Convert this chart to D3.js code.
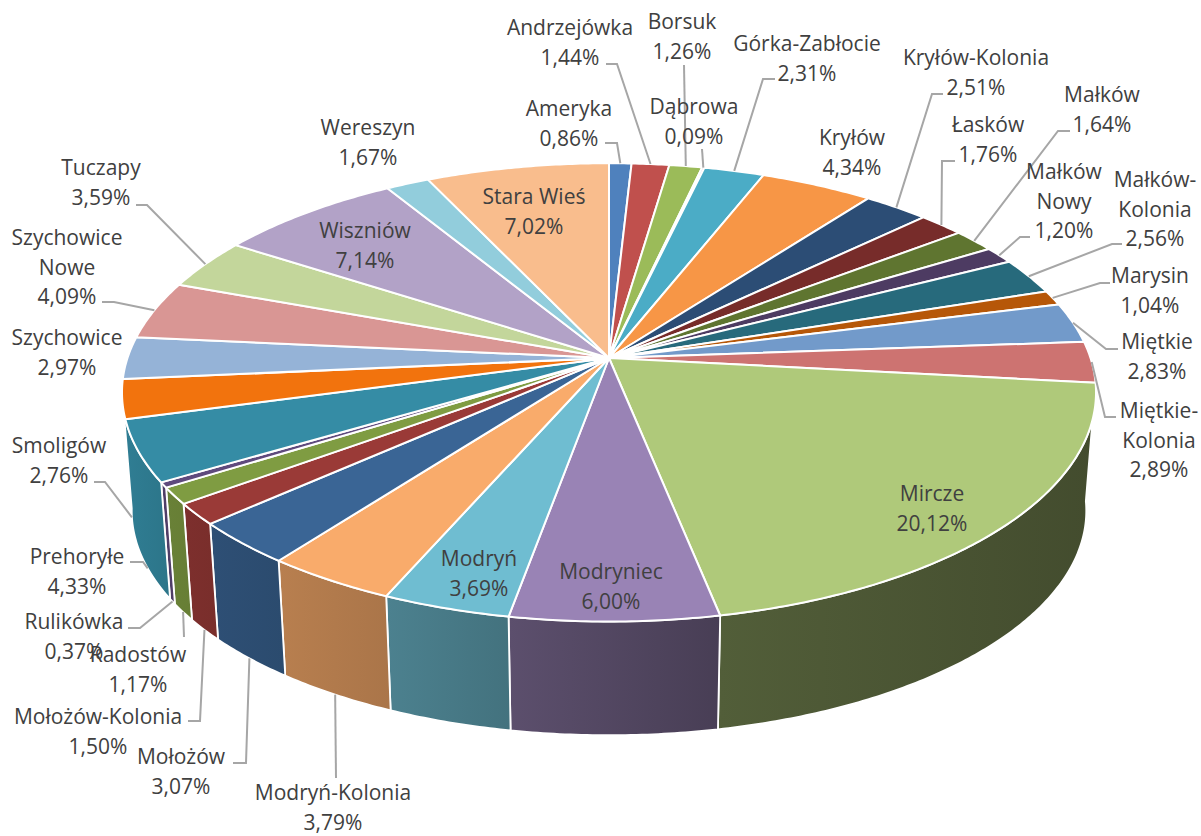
<!DOCTYPE html>
<html>
<head>
<meta charset="utf-8">
<script src="https://cdnjs.cloudflare.com/ajax/libs/d3/7.8.5/d3.min.js"></script>
<style>
  html, body { margin: 0; padding: 0; background: #fff; }
  text { font-family: "Open Sans", sans-serif; font-size: 21px; fill: #404040; }
</style>
</head>
<body>
<svg id="chart"></svg>
<script>
const categories = ["Ameryka", "Andrzejówka", "Borsuk", "Dąbrowa", "Górka-Zabłocie", "Kryłów", "Kryłów-Kolonia",
  "Łasków", "Małków", "Małków Nowy", "Małków-Kolonia", "Marysin", "Miętkie", "Miętkie-Kolonia", "Mircze",
  "Modryniec", "Modryń", "Modryń-Kolonia", "Mołożów", "Mołożów-Kolonia", "Radostów", "Rulikówka", "Prehoryłe",
  "Smoligów", "Szychowice", "Szychowice Nowe", "Tuczapy", "Wiszniów", "Wereszyn", "Stara Wieś"];

const shares = [0.86, 1.44, 1.26, 0.09, 2.31, 4.34, 2.51, 1.76, 1.64, 1.20, 2.56, 1.04, 2.83, 2.89, 20.12,
  6.00, 3.69, 3.79, 3.07, 1.50, 1.17, 0.37, 4.33, 2.76, 2.97, 4.09, 3.59, 7.14, 1.67, 7.02];

const colors = ["#4f81bd", "#c0504d", "#9bbb59", "#8064a2", "#4bacc6", "#f79646", "#2c4d75", "#772c2a", "#5f7530",
  "#4d3b62", "#276a7c", "#b65708", "#729aca", "#cd7371", "#afc97a", "#9983b5", "#6fbdd1", "#f9ab6b", "#3a6595",
  "#9a3a37", "#7f9c42", "#5f4a7d", "#358ca5", "#f2730d", "#95b3d7", "#d99694", "#c3d69b", "#b2a2c7", "#92cddc", "#f9bd8d"];

const width = 1201, height = 836;
const cx = 609, cy = 358;
const rx = 481.5, ry = 224, persp = 0.15;
const depth = 119, bottomScale = 0.98;

// label placement: x, y of the first line, leader points (elbow, end), which rim the leader starts on
const labelLayout = {
  "Ameryka": { x: 569, y: 109, leader: [[617, 143], [605, 143]] },
  "Andrzejówka": { x: 570, y: 28, leader: [[617, 64], [606, 64]] },
  "Borsuk": { x: 682, y: 22, leader: [[684, 65]] },
  "Dąbrowa": { x: 694, y: 107, leader: [[702, 149]] },
  "Górka-Zabłocie": { x: 807, y: 44, leader: [[763, 79], [775, 79]] },
  "Kryłów": { x: 852, y: 138 },
  "Kryłów-Kolonia": { x: 976, y: 58, leader: [[932, 94], [943, 94]] },
  "Łasków": { x: 988, y: 125, leader: [[942, 161], [955, 161]] },
  "Małków": { x: 1102, y: 95, leader: [[1058, 131], [1070, 131]] },
  "Małków Nowy": { x: 1064, y: 172, lines: ["Małków", "Nowy"], leader: [[1020, 237], [1030, 237]] },
  "Małków-Kolonia": { x: 1155, y: 180, lines: ["Małków-", "Kolonia"], leader: [[1112, 244], [1122, 244]] },
  "Marysin": { x: 1150, y: 276, leader: [[1100, 283], [1110, 283]] },
  "Miętkie": { x: 1157, y: 342, leader: [[1106, 349], [1118, 349]] },
  "Miętkie-Kolonia": { x: 1159, y: 411, lines: ["Miętkie-", "Kolonia"], leader: [[1105, 417], [1116, 417]] },
  "Mircze": { x: 932, y: 494 },
  "Modryniec": { x: 611, y: 572 },
  "Modryń": { x: 479, y: 559 },
  "Modryń-Kolonia": { x: 333, y: 793, rim: "bottom", leader: [[336, 778]] },
  "Mołożów": { x: 181, y: 757, rim: "bottom", leader: [[246, 763], [233, 763]] },
  "Mołożów-Kolonia": { x: 98, y: 717, rim: "bottom", leader: [[200, 721], [188, 721]] },
  "Radostów": { x: 138, y: 655, rim: "bottom", leader: [[184, 637]] },
  "Rulikówka": { x: 74, y: 622, rim: "bottom", leader: [[140, 628], [128, 628]] },
  "Prehoryłe": { x: 77, y: 557, rim: "bottom", leader: [[143, 562], [130, 562]] },
  "Smoligów": { x: 59, y: 446, rim: "bottom", leader: [[105, 482], [94, 482]] },
  "Szychowice": { x: 67, y: 338 },
  "Szychowice Nowe": { x: 67, y: 238, lines: ["Szychowice", "Nowe"], leader: [[114, 302], [102, 302]] },
  "Tuczapy": { x: 101, y: 168, leader: [[147, 205], [136, 205]] },
  "Wiszniów": { x: 365, y: 231 },
  "Wereszyn": { x: 368, y: 128 },
  "Stara Wieś": { x: 534, y: 197 }
};

const svg = d3.select("#chart")
  .attr("width", width)
  .attr("height", height)
  .style("display", "block");

// perspective tilt of the disc, a is the clockwise angle from 12 o'clock
const project = (a, rim) => {
  const X = Math.sin(a), Y = -Math.cos(a);
  const f = 1 / (1 - persp * Y);
  if (rim === "bottom") {
    return [cx + rx * X * f * bottomScale, cy + depth + ry * Y * f * bottomScale];
  }
  return [cx + rx * X * f, cy + ry * Y * f];
};

const rimPoints = (a0, a1, rim) => {
  const n = Math.max(2, Math.ceil((a1 - a0) / 0.01));
  return d3.range(n + 1).map(i => project(a0 + (a1 - a0) * i / n, rim));
};

const pie = d3.pie().sort(null).value(d => d.share);
const slices = pie(categories.map((name, i) => ({ name, share: shares[i], color: colors[i] })));

const line = d3.line();
const percent = d3.format(".2f");

// side walls get darker towards the right of the pie
const shade = d3.scaleLinear()
  .domain([96, 169, 203, 255])
  .range([0.38, 0.47, 0.68, 0.9])
  .clamp(true);

const darken = (c, k) => {
  const rgb = d3.rgb(c);
  return d3.rgb(rgb.r * k, rgb.g * k, rgb.b * k).formatHex();
};

const deg = r => r * 180 / Math.PI;
const rad = a => a * Math.PI / 180;

// only the front slices show a wall, the last one runs on to the left silhouette
const wallSlices = slices.filter(d => deg(d.startAngle) > 90 && deg(d.startAngle) < 250);
const wallEnd = d => deg(d.endAngle) > 250 ? rad(262) : d.endAngle;

const defs = svg.append("defs");
const grads = defs.selectAll("linearGradient")
  .data(wallSlices)
  .join("linearGradient")
  .attr("id", (d, i) => `wall-${i}`);
grads.append("stop").attr("offset", "0%")
  .attr("stop-color", d => darken(d.data.color, shade(deg(d.endAngle))));
grads.append("stop").attr("offset", "100%")
  .attr("stop-color", d => darken(d.data.color, shade(deg(d.startAngle))));

// walls first, the top disc covers whatever is behind it
svg.append("g").attr("class", "walls")
  .selectAll("path")
  .data(wallSlices)
  .join("path")
  .attr("d", d => line(rimPoints(d.startAngle, wallEnd(d), "top")
    .concat(rimPoints(d.startAngle, wallEnd(d), "bottom").reverse())) + "Z")
  .attr("fill", (d, i) => `url(#wall-${i})`)
  .attr("stroke", "#fff")
  .attr("stroke-width", 1.8)
  .attr("stroke-linejoin", "round");

svg.append("g").attr("class", "tops")
  .selectAll("path")
  .data(slices)
  .join("path")
  .attr("d", d => line([[cx, cy]].concat(rimPoints(d.startAngle, d.endAngle, "top"))) + "Z")
  .attr("fill", d => d.data.color)
  .attr("stroke", "#fff")
  .attr("stroke-width", 2)
  .attr("stroke-linejoin", "round");

svg.append("g").attr("class", "leaders")
  .selectAll("path")
  .data(slices.filter(d => labelLayout[d.data.name].leader))
  .join("path")
  .attr("d", d => {
    const l = labelLayout[d.data.name];
    return line([project((d.startAngle + d.endAngle) / 2, l.rim)].concat(l.leader));
  })
  .attr("fill", "none")
  .attr("stroke", "#a6a6a6")
  .attr("stroke-width", 2);

const labels = svg.append("g").attr("class", "labels")
  .selectAll("text")
  .data(slices)
  .join("text")
  .attr("text-anchor", "middle")
  .attr("x", d => labelLayout[d.data.name].x)
  .attr("y", d => labelLayout[d.data.name].y);

labels.selectAll("tspan")
  .data(d => (labelLayout[d.data.name].lines || [d.data.name])
    .concat(percent(d.data.share).replace(".", ",") + "%"))
  .join("tspan")
  .attr("x", function () { return this.parentNode.getAttribute("x"); })
  .attr("dy", (d, i) => i === 0 ? "0.35em" : "29.5px")
  .text(d => d);
</script>
</body>
</html>
